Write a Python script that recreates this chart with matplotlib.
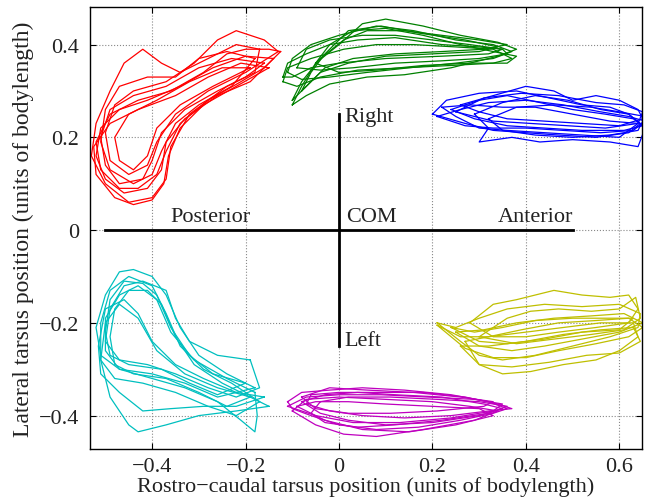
import matplotlib
matplotlib.use('Agg')
import matplotlib.pyplot as plt
import numpy as np

plt.rcParams['font.family'] = ['Liberation Serif', 'DejaVu Serif']

# tarsus loops, one list of (x, y) per stride
red_loops = [
    [(-0.14, 0.37), (-0.20, 0.375), (-0.27, 0.35), (-0.34, 0.31), (-0.41, 0.28), (-0.47, 0.26), (-0.51, 0.22), (-0.52, 0.16),
     (-0.50, 0.11), (-0.46, 0.08), (-0.41, 0.09), (-0.38, 0.13), (-0.37, 0.19), (-0.33, 0.24), (-0.26, 0.29), (-0.19, 0.32),
     (-0.14, 0.37)],
    [(-0.16, 0.36), (-0.23, 0.37), (-0.30, 0.35), (-0.37, 0.31), (-0.44, 0.29), (-0.49, 0.26), (-0.51, 0.20), (-0.50, 0.14),
     (-0.47, 0.10), (-0.42, 0.11), (-0.40, 0.15), (-0.38, 0.21), (-0.33, 0.26), (-0.26, 0.30), (-0.20, 0.33), (-0.16, 0.36)],
    [(-0.17, 0.39), (-0.22, 0.40), (-0.28, 0.37), (-0.34, 0.34), (-0.38, 0.36), (-0.42, 0.39), (-0.46, 0.36), (-0.49, 0.30),
     (-0.52, 0.23), (-0.53, 0.16), (-0.50, 0.10), (-0.45, 0.06), (-0.40, 0.07), (-0.37, 0.11), (-0.36, 0.18), (-0.32, 0.25),
     (-0.24, 0.31), (-0.18, 0.34), (-0.17, 0.39)],
    [(-0.13, 0.385), (-0.16, 0.41), (-0.22, 0.43), (-0.26, 0.41), (-0.31, 0.36), (-0.37, 0.32), (-0.44, 0.30), (-0.48, 0.27),
     (-0.50, 0.21), (-0.49, 0.15), (-0.45, 0.12), (-0.41, 0.14), (-0.39, 0.19), (-0.35, 0.25), (-0.28, 0.30), (-0.20, 0.34),
     (-0.13, 0.385)],
    [(-0.19, 0.35), (-0.25, 0.35), (-0.32, 0.32), (-0.39, 0.28), (-0.45, 0.25), (-0.48, 0.20), (-0.47, 0.15), (-0.44, 0.13),
     (-0.41, 0.16), (-0.39, 0.22), (-0.34, 0.27), (-0.27, 0.31), (-0.19, 0.35)],
    [(-0.15, 0.35), (-0.21, 0.36), (-0.28, 0.33), (-0.35, 0.29), (-0.43, 0.26), (-0.49, 0.23), (-0.525, 0.18), (-0.52, 0.12),
     (-0.48, 0.07), (-0.44, 0.055), (-0.40, 0.065), (-0.375, 0.10), (-0.365, 0.16), (-0.34, 0.22), (-0.29, 0.27),
     (-0.22, 0.31), (-0.15, 0.35)],
    [(-0.18, 0.37), (-0.24, 0.385), (-0.30, 0.37), (-0.35, 0.33), (-0.41, 0.33), (-0.47, 0.31), (-0.50, 0.26), (-0.51, 0.19),
     (-0.49, 0.13), (-0.44, 0.10), (-0.40, 0.12), (-0.38, 0.17), (-0.35, 0.23), (-0.30, 0.27), (-0.23, 0.31), (-0.18, 0.37)],
    [(-0.125, 0.385), (-0.15, 0.39), (-0.20, 0.39), (-0.24, 0.38), (-0.29, 0.34), (-0.36, 0.30), (-0.43, 0.28), (-0.49, 0.25),
     (-0.52, 0.19), (-0.51, 0.13), (-0.47, 0.09), (-0.43, 0.09), (-0.39, 0.12), (-0.37, 0.17), (-0.34, 0.23), (-0.28, 0.28),
     (-0.21, 0.32), (-0.16, 0.35), (-0.125, 0.385)],
]

green_loops = [
    [(-0.11, 0.34), (-0.10, 0.37), (-0.06, 0.40), (0.00, 0.42), (0.08, 0.44), (0.16, 0.43), (0.25, 0.41), (0.33, 0.40),
     (0.37, 0.385), (0.33, 0.37), (0.25, 0.36), (0.15, 0.35), (0.06, 0.34), (-0.02, 0.33), (-0.08, 0.325), (-0.11, 0.34)],
    [(-0.09, 0.35), (-0.07, 0.39), (-0.02, 0.41), (0.05, 0.42), (0.12, 0.42), (0.20, 0.41), (0.28, 0.40), (0.35, 0.39),
     (0.36, 0.38), (0.30, 0.37), (0.22, 0.365), (0.12, 0.36), (0.03, 0.35), (-0.04, 0.345), (-0.09, 0.35)],
    [(-0.10, 0.27), (-0.08, 0.31), (-0.05, 0.36), (0.00, 0.40), (0.05, 0.445), (0.10, 0.455), (0.18, 0.44), (0.26, 0.42),
     (0.34, 0.405), (0.38, 0.39), (0.34, 0.375), (0.24, 0.35), (0.14, 0.335), (0.06, 0.33), (-0.02, 0.315), (-0.07, 0.29),
     (-0.10, 0.27)],
    [(-0.12, 0.33), (-0.11, 0.36), (-0.07, 0.38), (-0.02, 0.40), (0.04, 0.41), (0.12, 0.415), (0.22, 0.40), (0.30, 0.395),
     (0.35, 0.39), (0.32, 0.38), (0.22, 0.375), (0.10, 0.37), (0.00, 0.36), (-0.06, 0.35), (-0.10, 0.33), (-0.12, 0.33)],
    [(-0.08, 0.30), (-0.06, 0.34), (-0.03, 0.38), (0.02, 0.43), (0.09, 0.44), (0.17, 0.425), (0.27, 0.41), (0.34, 0.395),
     (0.30, 0.385), (0.20, 0.38), (0.10, 0.375), (0.02, 0.36), (-0.04, 0.34), (-0.08, 0.30)],
    [(-0.12, 0.32), (-0.11, 0.35), (-0.06, 0.37), (0.01, 0.39), (0.08, 0.40), (0.16, 0.40), (0.25, 0.395), (0.33, 0.39),
     (0.37, 0.37), (0.33, 0.36), (0.24, 0.355), (0.14, 0.35), (0.04, 0.345), (-0.04, 0.33), (-0.09, 0.31), (-0.12, 0.32)],
    [(-0.05, 0.36), (-0.02, 0.40), (0.03, 0.43), (0.10, 0.435), (0.18, 0.42), (0.26, 0.40), (0.33, 0.385), (0.38, 0.375),
     (0.36, 0.36), (0.28, 0.36), (0.18, 0.355), (0.08, 0.345), (0.00, 0.34), (-0.05, 0.36)],
    [(-0.10, 0.28), (-0.08, 0.32), (-0.04, 0.37), (0.01, 0.41), (0.06, 0.43), (0.14, 0.43), (0.22, 0.42), (0.30, 0.41),
     (0.36, 0.40), (0.31, 0.39), (0.22, 0.385), (0.12, 0.38), (0.03, 0.37), (-0.03, 0.35), (-0.07, 0.31), (-0.10, 0.28)],
]

blue_loops = [
    [(0.20, 0.25), (0.23, 0.28), (0.30, 0.295), (0.38, 0.30), (0.45, 0.285), (0.52, 0.27), (0.58, 0.265), (0.62, 0.25),
     (0.645, 0.23), (0.62, 0.21), (0.55, 0.20), (0.47, 0.205), (0.40, 0.21), (0.33, 0.215), (0.27, 0.23), (0.20, 0.25)],
    [(0.24, 0.26), (0.30, 0.28), (0.36, 0.29), (0.43, 0.275), (0.50, 0.26), (0.57, 0.25), (0.63, 0.24), (0.65, 0.225),
     (0.61, 0.215), (0.52, 0.215), (0.44, 0.22), (0.36, 0.225), (0.29, 0.24), (0.24, 0.26)],
    [(0.29, 0.25), (0.35, 0.275), (0.42, 0.29), (0.49, 0.28), (0.56, 0.26), (0.62, 0.25), (0.655, 0.22), (0.64, 0.18),
     (0.58, 0.19), (0.50, 0.195), (0.43, 0.19), (0.37, 0.20), (0.30, 0.19), (0.32, 0.22), (0.29, 0.25)],
    [(0.26, 0.27), (0.33, 0.29), (0.40, 0.31), (0.46, 0.30), (0.50, 0.28), (0.55, 0.29), (0.60, 0.28), (0.64, 0.26),
     (0.65, 0.24), (0.60, 0.225), (0.52, 0.23), (0.44, 0.235), (0.36, 0.24), (0.30, 0.255), (0.26, 0.27)],
    [(0.22, 0.265), (0.28, 0.27), (0.35, 0.265), (0.42, 0.265), (0.50, 0.25), (0.58, 0.235), (0.64, 0.23), (0.60, 0.20),
     (0.52, 0.205), (0.44, 0.21), (0.36, 0.215), (0.30, 0.22), (0.25, 0.245), (0.22, 0.265)],
    [(0.21, 0.245), (0.26, 0.26), (0.32, 0.275), (0.40, 0.28), (0.48, 0.27), (0.56, 0.255), (0.62, 0.245), (0.655, 0.235),
     (0.63, 0.215), (0.56, 0.21), (0.48, 0.215), (0.40, 0.22), (0.33, 0.22), (0.27, 0.225), (0.21, 0.245)],
    [(0.32, 0.24), (0.38, 0.265), (0.46, 0.27), (0.54, 0.265), (0.60, 0.255), (0.655, 0.245), (0.64, 0.215), (0.58, 0.205),
     (0.50, 0.20), (0.42, 0.205), (0.35, 0.215), (0.32, 0.24)],
    [(0.25, 0.255), (0.31, 0.285), (0.39, 0.295), (0.47, 0.29), (0.55, 0.275), (0.61, 0.27), (0.65, 0.255), (0.64, 0.23),
     (0.57, 0.22), (0.49, 0.225), (0.41, 0.23), (0.33, 0.235), (0.25, 0.255)],
]

cyan_loops = [
    [(-0.17, -0.37), (-0.23, -0.33), (-0.29, -0.30), (-0.34, -0.25), (-0.37, -0.18), (-0.40, -0.12), (-0.45, -0.10),
     (-0.49, -0.13), (-0.51, -0.20), (-0.51, -0.28), (-0.48, -0.32), (-0.42, -0.33), (-0.35, -0.35), (-0.28, -0.38),
     (-0.22, -0.40), (-0.17, -0.37)],
    [(-0.19, -0.36), (-0.25, -0.33), (-0.31, -0.29), (-0.35, -0.23), (-0.38, -0.16), (-0.41, -0.13), (-0.45, -0.13),
     (-0.48, -0.17), (-0.49, -0.23), (-0.48, -0.29), (-0.44, -0.31), (-0.37, -0.32), (-0.30, -0.35), (-0.24, -0.38),
     (-0.19, -0.36)],
    [(-0.18, -0.34), (-0.24, -0.31), (-0.30, -0.27), (-0.34, -0.21), (-0.37, -0.14), (-0.40, -0.10), (-0.44, -0.085),
     (-0.47, -0.09), (-0.50, -0.14), (-0.52, -0.21), (-0.51, -0.27), (-0.47, -0.30), (-0.40, -0.31), (-0.33, -0.33),
     (-0.26, -0.36), (-0.18, -0.34)],
    [(-0.15, -0.38), (-0.19, -0.36), (-0.26, -0.34), (-0.33, -0.31), (-0.39, -0.26), (-0.43, -0.19), (-0.47, -0.16),
     (-0.50, -0.20), (-0.51, -0.28), (-0.49, -0.36), (-0.45, -0.42), (-0.43, -0.435), (-0.37, -0.42), (-0.30, -0.40),
     (-0.22, -0.39), (-0.15, -0.38)],
    [(-0.18, -0.35), (-0.24, -0.32), (-0.31, -0.28), (-0.36, -0.22), (-0.39, -0.15), (-0.43, -0.12), (-0.47, -0.14),
     (-0.50, -0.19), (-0.50, -0.26), (-0.47, -0.30), (-0.40, -0.32), (-0.33, -0.34), (-0.26, -0.37), (-0.21, -0.41),
     (-0.18, -0.435), (-0.175, -0.40), (-0.18, -0.35)],
    [(-0.19, -0.28), (-0.26, -0.27), (-0.32, -0.24), (-0.35, -0.19), (-0.37, -0.13), (-0.42, -0.11), (-0.46, -0.12),
     (-0.49, -0.17), (-0.50, -0.24), (-0.47, -0.28), (-0.41, -0.29), (-0.35, -0.31), (-0.28, -0.34), (-0.22, -0.36),
     (-0.17, -0.34), (-0.19, -0.28)],
    [(-0.16, -0.36), (-0.22, -0.35), (-0.29, -0.32), (-0.35, -0.29), (-0.40, -0.24), (-0.43, -0.18), (-0.46, -0.15),
     (-0.50, -0.17), (-0.515, -0.25), (-0.51, -0.31), (-0.47, -0.35), (-0.42, -0.39), (-0.36, -0.385), (-0.29, -0.38),
     (-0.22, -0.38), (-0.16, -0.36)],
    [(-0.20, -0.33), (-0.27, -0.31), (-0.32, -0.27), (-0.36, -0.21), (-0.39, -0.14), (-0.42, -0.115), (-0.46, -0.11),
     (-0.49, -0.15), (-0.50, -0.22), (-0.49, -0.27), (-0.45, -0.29), (-0.38, -0.30), (-0.32, -0.33), (-0.26, -0.355),
     (-0.20, -0.33)],
]

magenta_loops = [
    [(-0.11, -0.37), (-0.08, -0.35), (-0.02, -0.345), (0.05, -0.34), (0.14, -0.345), (0.24, -0.355), (0.32, -0.37),
     (0.36, -0.385), (0.33, -0.395), (0.26, -0.41), (0.17, -0.425), (0.08, -0.43), (0.00, -0.42), (-0.06, -0.40),
     (-0.10, -0.385), (-0.11, -0.37)],
    [(-0.08, -0.37), (-0.03, -0.355), (0.04, -0.35), (0.12, -0.355), (0.22, -0.36), (0.31, -0.375), (0.35, -0.385),
     (0.30, -0.40), (0.20, -0.415), (0.10, -0.42), (0.02, -0.41), (-0.04, -0.395), (-0.08, -0.37)],
    [(-0.10, -0.39), (-0.07, -0.365), (0.00, -0.36), (0.10, -0.365), (0.20, -0.37), (0.28, -0.38), (0.34, -0.39),
     (0.29, -0.41), (0.18, -0.43), (0.08, -0.445), (0.01, -0.44), (-0.05, -0.42), (-0.10, -0.39)],
    [(-0.06, -0.355), (0.00, -0.35), (0.08, -0.35), (0.18, -0.35), (0.27, -0.36), (0.34, -0.375), (0.37, -0.385),
     (0.32, -0.39), (0.24, -0.40), (0.14, -0.405), (0.05, -0.40), (-0.02, -0.39), (-0.07, -0.375), (-0.06, -0.355)],
    [(-0.09, -0.38), (-0.05, -0.37), (0.02, -0.37), (0.10, -0.375), (0.20, -0.38), (0.30, -0.385), (0.33, -0.40),
     (0.25, -0.42), (0.15, -0.435), (0.05, -0.43), (-0.03, -0.41), (-0.09, -0.38)],
    [(-0.11, -0.38), (-0.07, -0.36), (0.00, -0.355), (0.09, -0.355), (0.19, -0.36), (0.29, -0.365), (0.35, -0.375),
     (0.33, -0.39), (0.24, -0.405), (0.13, -0.415), (0.03, -0.415), (-0.05, -0.40), (-0.11, -0.38)],
    [(-0.04, -0.37), (0.02, -0.36), (0.11, -0.36), (0.21, -0.365), (0.30, -0.37), (0.36, -0.38), (0.32, -0.395),
     (0.22, -0.41), (0.12, -0.42), (0.04, -0.425), (-0.03, -0.415), (-0.06, -0.395), (-0.04, -0.37)],
    [(-0.08, -0.36), (-0.02, -0.34), (0.06, -0.345), (0.16, -0.35), (0.26, -0.36), (0.33, -0.37), (0.31, -0.38),
     (0.21, -0.39), (0.11, -0.395), (0.02, -0.395), (-0.05, -0.385), (-0.08, -0.36)],
]

yellow_loops = [
    [(0.21, -0.20), (0.25, -0.21), (0.30, -0.19), (0.36, -0.17), (0.44, -0.16), (0.52, -0.165), (0.60, -0.16),
     (0.645, -0.18), (0.64, -0.21), (0.58, -0.23), (0.50, -0.25), (0.42, -0.27), (0.35, -0.28), (0.30, -0.27),
     (0.26, -0.24), (0.21, -0.20)],
    [(0.25, -0.22), (0.31, -0.215), (0.38, -0.20), (0.46, -0.19), (0.54, -0.185), (0.61, -0.18), (0.65, -0.20),
     (0.60, -0.22), (0.52, -0.235), (0.44, -0.25), (0.37, -0.26), (0.30, -0.25), (0.25, -0.22)],
    [(0.28, -0.20), (0.33, -0.16), (0.38, -0.15), (0.42, -0.14), (0.46, -0.13), (0.52, -0.14), (0.58, -0.145),
     (0.62, -0.14), (0.64, -0.17), (0.62, -0.20), (0.55, -0.21), (0.47, -0.22), (0.40, -0.23), (0.33, -0.23), (0.28, -0.20)],
    [(0.27, -0.24), (0.32, -0.23), (0.40, -0.22), (0.48, -0.21), (0.56, -0.20), (0.63, -0.20), (0.64, -0.23),
     (0.60, -0.26), (0.55, -0.28), (0.48, -0.29), (0.41, -0.305), (0.35, -0.31), (0.30, -0.29), (0.27, -0.24)],
    [(0.24, -0.21), (0.29, -0.22), (0.35, -0.21), (0.42, -0.195), (0.50, -0.19), (0.57, -0.19), (0.63, -0.19),
     (0.60, -0.215), (0.52, -0.22), (0.44, -0.235), (0.36, -0.245), (0.30, -0.24), (0.24, -0.21)],
    [(0.21, -0.205), (0.26, -0.23), (0.32, -0.23), (0.39, -0.215), (0.47, -0.20), (0.55, -0.195), (0.62, -0.19),
     (0.65, -0.21), (0.62, -0.23), (0.55, -0.245), (0.47, -0.26), (0.40, -0.275), (0.33, -0.275), (0.27, -0.255),
     (0.21, -0.205)],
    [(0.30, -0.23), (0.36, -0.19), (0.41, -0.175), (0.47, -0.17), (0.54, -0.175), (0.60, -0.17), (0.635, -0.145),
     (0.645, -0.19), (0.61, -0.215), (0.54, -0.225), (0.46, -0.235), (0.38, -0.245), (0.30, -0.23)],
    [(0.26, -0.25), (0.32, -0.25), (0.40, -0.24), (0.48, -0.225), (0.56, -0.215), (0.63, -0.21), (0.645, -0.24),
     (0.60, -0.265), (0.53, -0.27), (0.45, -0.285), (0.37, -0.295), (0.30, -0.29), (0.26, -0.25)],
]

legs = [
    (red_loops, '#ff0000'),
    (green_loops, '#008000'),
    (blue_loops, '#0000ff'),
    (cyan_loops, '#00bfbf'),
    (magenta_loops, '#bf00bf'),
    (yellow_loops, '#bfbf00'),
]

xticks = [-0.4, -0.2, 0, 0.2, 0.4, 0.6]
yticks = [-0.4, -0.2, 0, 0.2, 0.4]
tick_labels_x = ['\u22120.4', '\u22120.2', '0', '0.2', '0.4', '0.6']
tick_labels_y = ['\u22120.4', '\u22120.2', '0', '0.2', '0.4']

fig = plt.figure(figsize=(6.45, 5.02), dpi=100)
ax = fig.add_axes([0.1395, 0.1036, 0.8555, 0.8804])

for loops, col in legs:
    for lp in loops:
        a = np.array(lp)
        ax.plot(a[:, 0], a[:, 1], color=col, lw=0.9)

# body axes cross
ax.plot([-0.5, 0.5], [0, 0], color='k', lw=2)
ax.plot([0, 0], [-0.25, 0.25], color='k', lw=2)

txt = '#222222'
ax.text(0.012, 0.244, 'Right', fontsize=16, va='center', ha='left', color=txt)
ax.text(0.012, -0.237, 'Left', fontsize=16, va='center', ha='left', color=txt)
ax.text(0.016, 0.03, 'COM', fontsize=16, va='center', ha='left', color=txt)
ax.text(-0.276, 0.03, 'Posterior', fontsize=16, va='center', ha='center', color=txt)
ax.text(0.42, 0.03, 'Anterior', fontsize=16, va='center', ha='center', color=txt)

ax.set_xlim(-0.533, 0.648)
ax.set_ylim(-0.472, 0.481)
ax.set_xticks(xticks)
ax.set_xticklabels(tick_labels_x)
ax.set_yticks(yticks)
ax.set_yticklabels(tick_labels_y)
ax.tick_params(direction='in', top=True, right=True, length=4, width=0.8, labelcolor=txt, labelsize=16)
ax.tick_params(axis='x', pad=6)
ax.tick_params(axis='y', pad=8)
ax.grid(True, linestyle=':', color='#888888', lw=0.8)
for s in ax.spines.values():
    s.set_linewidth(1.0)

ax.set_xlabel('Rostro\u2212caudal tarsus position (units of bodylength)', fontsize=16, labelpad=0, color=txt)
ax.set_ylabel('Lateral tarsus position (units of bodylength)', fontsize=17, labelpad=3, color=txt)

fig.savefig('out.png', dpi=100)
